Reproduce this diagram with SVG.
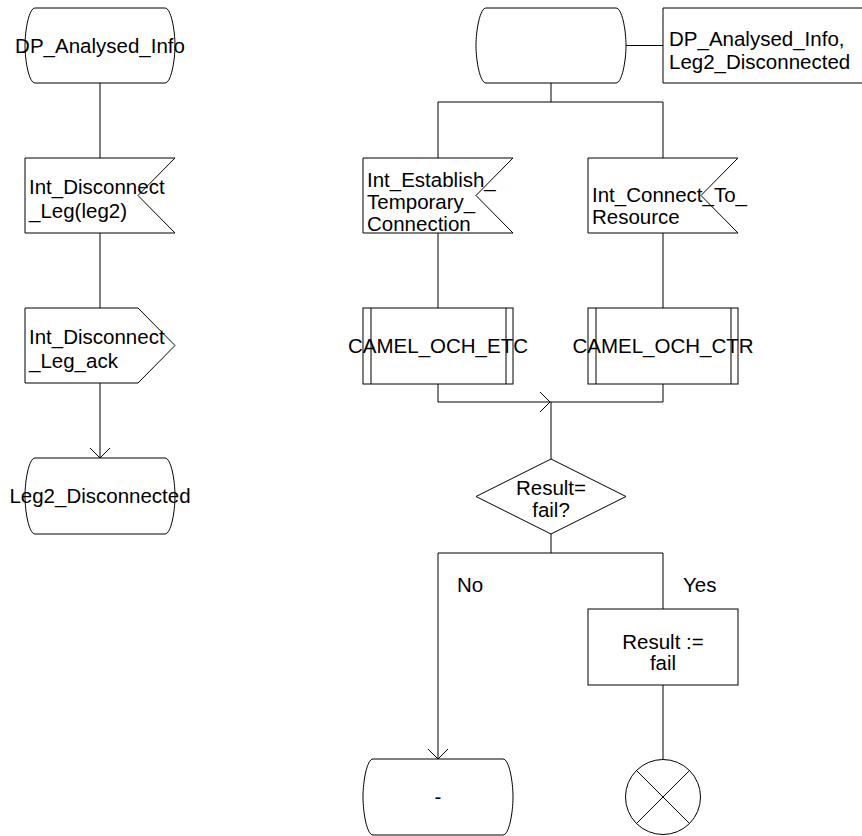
<svg xmlns="http://www.w3.org/2000/svg" width="862" height="836" viewBox="0 0 862 836">
<defs>
<style>
.s{fill:#fff;stroke:#000;stroke-width:1}
.l{fill:none;stroke:#000;stroke-width:1}
text{font-family:"Liberation Sans",Arial,sans-serif;font-size:20.5px;fill:#000}
.c{text-anchor:middle}
</style>
</defs>
<rect width="862" height="836" fill="#fff"/>
<g id="connectors">
<path class="l" d="M100,83V158"/>
<path class="l" d="M100,233V308"/>
<path class="l" d="M100,383V458M90,448L100,458L110,448"/>
<path class="l" d="M626,45.5H663"/>
<path class="l" d="M551,83V102M438,102H663M438,102V158M663,102V158"/>
<path class="l" d="M438,233V308M663,233V308"/>
<path class="l" d="M438,384V402H663V384M551,402V459M540,392L550,402L540,412"/>
<path class="l" d="M551,534V553M438,553H663M438,553V759M428,749L438,759L448,749M663,553V609"/>
<path class="l" d="M663,685V759"/>
</g>
<g id="state_dp">
<path class="s" d="M35,8H165C171,8 175,30 175,45.5C175,61 171,83 165,83H35C29,83 25,61 25,45.5C25,30 29,8 35,8Z"/>
<text class="c" x="100" y="53">DP_Analysed_Info</text>
</g>
<g id="input_disconnect">
<path class="s" d="M25,158H175L138,195.5L175,233H25Z"/>
<text x="29" y="194">Int_Disconnect</text>
<text x="29" y="218">_Leg(leg2)</text>
</g>
<g id="output_ack">
<path class="s" d="M25,308H138L175,345.5L138,383H25Z"/>
<text x="29" y="344">Int_Disconnect</text>
<text x="29" y="368">_Leg_ack</text>
</g>
<g id="state_leg2">
<path class="s" d="M35,458H165C171,458 175,480 175,496C175,512 171,534 165,534H35C29,534 25,512 25,496C25,480 29,458 35,458Z"/>
<text class="c" x="100" y="503">Leg2_Disconnected</text>
</g>
<g id="state_any">
<path class="s" d="M486,8H616C622,8 626,30 626,45.5C626,61 622,83 616,83H486C480,83 476,61 476,45.5C476,30 480,8 486,8Z"/>
</g>
<g id="comment">
<path class="l" d="M863,8H663V83H863"/>
<text x="669" y="46">DP_Analysed_Info,</text>
<text x="669" y="69">Leg2_Disconnected</text>
</g>
<g id="input_etc">
<path class="s" d="M363,158H513L476,195.5L513,233H363Z"/>
<text x="367" y="187">Int_Establish_</text>
<text x="367" y="209">Temporary_</text>
<text x="367" y="231">Connection</text>
</g>
<g id="input_ctr">
<path class="s" d="M588,158H738L701,195.5L738,233H588Z"/>
<text x="592" y="202">Int_Connect_To_</text>
<text x="592" y="224">Resource</text>
</g>
<g id="proc_etc">
<rect class="s" x="363" y="308" width="150" height="76"/>
<path class="l" d="M371,308V384M506,308V384"/>
<text class="c" x="438" y="353">CAMEL_OCH_ETC</text>
</g>
<g id="proc_ctr">
<rect class="s" x="588" y="308" width="150" height="76"/>
<path class="l" d="M596,308V384M731,308V384"/>
<text class="c" x="663" y="353">CAMEL_OCH_CTR</text>
</g>
<g id="decision">
<path class="s" d="M551,459L626,496.5L551,534L476,496.5Z"/>
<text class="c" x="551" y="495">Result=</text>
<text class="c" x="551" y="517">fail?</text>
</g>
<g id="label_no"><text x="457" y="592">No</text></g>
<g id="label_yes"><text x="683" y="592">Yes</text></g>
<g id="task_result">
<rect class="s" x="588" y="609" width="150" height="76"/>
<text class="c" x="663" y="649">Result :=</text>
<text class="c" x="663" y="670">fail</text>
</g>
<g id="state_dash">
<path class="s" d="M373,759H503C509,759 513,781 513,797C513,813 509,835 503,835H373C367,835 363,813 363,797C363,781 367,759 373,759Z"/>
<text class="c" x="438" y="804">-</text>
</g>
<g id="stop">
<circle class="s" cx="663" cy="797" r="37.5"/>
<path class="l" d="M636.5,770.5L689.5,823.5M689.5,770.5L636.5,823.5"/>
</g>
</svg>
